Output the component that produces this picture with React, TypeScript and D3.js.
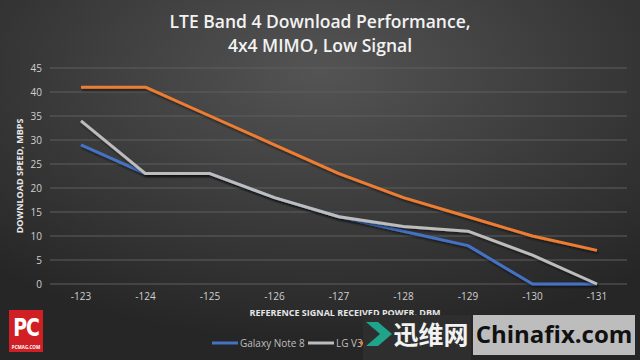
import React from "react";
import * as d3 from "d3";

const categories = ["-123", "-124", "-125", "-126", "-127", "-128", "-129", "-130", "-131"];
const galaxyNote8 = [29, 23, 23, 18, 14, 11, 8, 0, 0];
const lgV30 = [34, 23, 23, 18, 14, 12, 11, 6, 0];
const thirdPhone = [41, 41, 35, 29, 23, 18, 14, 10, 7];
const yTicks = [0, 5, 10, 15, 20, 25, 30, 35, 40, 45];
const seriesNames = ["Galaxy Note 8", "LG V30", ""];
const seriesColors = ["#4472C4", "#BDBDBD", "#ED7D31"];

const W = 640;
const H = 360;
const FONT = "'Open Sans', 'Noto Sans', sans-serif";

export default function App() {
  const x = d3.scalePoint<string>().domain(categories).range([81, 597]);
  const y = d3.scaleLinear().domain([0, 45]).range([284, 68]);
  const series = [galaxyNote8, lgV30, thirdPhone];
  const line = d3
    .line<number>()
    .x((_, i) => x(categories[i]) as number)
    .y((d) => y(d));

  return (
    <svg
      width={W}
      height={H}
      style={{ position: "absolute", left: 0, top: 0, display: "block" }}
      fontFamily={FONT}
    >
      <defs>
        <radialGradient id="bg" cx="50%" cy="20%" r="75%">
          <stop offset="0%" stopColor="#545454" />
          <stop offset="60%" stopColor="#383838" />
          <stop offset="100%" stopColor="#262626" />
        </radialGradient>
        <filter id="sh" x="-5%" y="-5%" width="110%" height="120%">
          <feDropShadow dx="1" dy="2" stdDeviation="1" floodColor="#000" floodOpacity="0.5" />
        </filter>
      </defs>
      <rect x={0} y={0} width={W} height={H} fill="url(#bg)" />

      {/* title */}
      <text x={320} y={28} textAnchor="middle" fill="#F2F2F2" fontSize={17.5} fontWeight={600}>
        LTE Band 4 Download Performance,
      </text>
      <text x={320} y={52} textAnchor="middle" fill="#F2F2F2" fontSize={17.5} fontWeight={600}>
        4x4 MIMO, Low Signal
      </text>

      {/* gridlines and y ticks */}
      {yTicks.map((t) => (
        <g key={t}>
          <line x1={50} x2={627} y1={y(t)} y2={y(t)} stroke="#5E5E5E" strokeWidth={1} />
          <text
            x={42}
            y={y(t)}
            dy="0.35em"
            textAnchor="end"
            fill="#D0D0D0"
            fontSize={10}
          >
            {t}
          </text>
        </g>
      ))}

      {/* x ticks */}
      {categories.map((c) => (
        <text key={c} x={x(c)} y={300} textAnchor="middle" fill="#D0D0D0" fontSize={10}>
          {c}
        </text>
      ))}

      {/* axis titles */}
      <text
        transform={`translate(23,176) rotate(-90)`}
        textAnchor="middle"
        fill="#E6E6E6"
        fontSize={9}
        fontWeight={700}
      >
        DOWNLOAD SPEED, MBPS
      </text>
      <text x={345} y={316} textAnchor="middle" fill="#E6E6E6" fontSize={9} fontWeight={700}>
        REFERENCE SIGNAL RECEIVED POWER, DBM
      </text>

      {/* lines */}
      {series.map((s, i) => (
        <path
          key={i}
          d={line(s) || ""}
          fill="none"
          stroke={seriesColors[i]}
          strokeWidth={3}
          strokeLinejoin="round"
          filter="url(#sh)"
        />
      ))}

      {/* legend */}
      {seriesNames.map((n, i) => {
        const lx = [212, 308, 360][i];
        return (
          <g key={i}>
            <line x1={lx} x2={lx + 26} y1={343} y2={343} stroke={seriesColors[i]} strokeWidth={3} />
            {n ? (
              <text x={lx + 28} y={343} dy="0.35em" fill="#BFBFBF" fontSize={10}>
                {n}
              </text>
            ) : null}
          </g>
        );
      })}

      {/* PCMag logo */}
      <rect x={9} y={310} width={34} height={42} fill="#D01F25" />
      <text
        transform="translate(26,336) scale(1,1.2)"
        textAnchor="middle"
        fill="#FFFFFF"
        fontSize={21}
        fontWeight={700}
        fontFamily="'Liberation Sans Narrow', 'DejaVu Sans Condensed', sans-serif"
        letterSpacing={-1}
      >
        PC
      </text>
      <text x={26} y={349} textAnchor="middle" fill="#FFFFFF" fontSize={4.5} fontWeight={700}>
        PCMAG.COM
      </text>

      {/* watermark */}
      <rect x={363} y={315} width={108} height={45} fill="#2E2E2E" />
      <path d="M366,322 L378,322 L392,334 L378,346 L366,346 L380,334 Z" fill="#1FA38A" />
      <text x={431} y={344} textAnchor="middle" fill="#F2F2F2" fontSize={25} fontWeight={700} fontFamily="'Noto Sans CJK SC', sans-serif">
        迅维网
      </text>
      <rect x={473} y={315} width={162} height={40} fill="#BDBDBD" />
      <text x={554} y={343} textAnchor="middle" fill="#111111" fontSize={24} fontWeight={700} fontFamily="'Open Sans', sans-serif">
        Chinafix.com
      </text>
    </svg>
  );
}
